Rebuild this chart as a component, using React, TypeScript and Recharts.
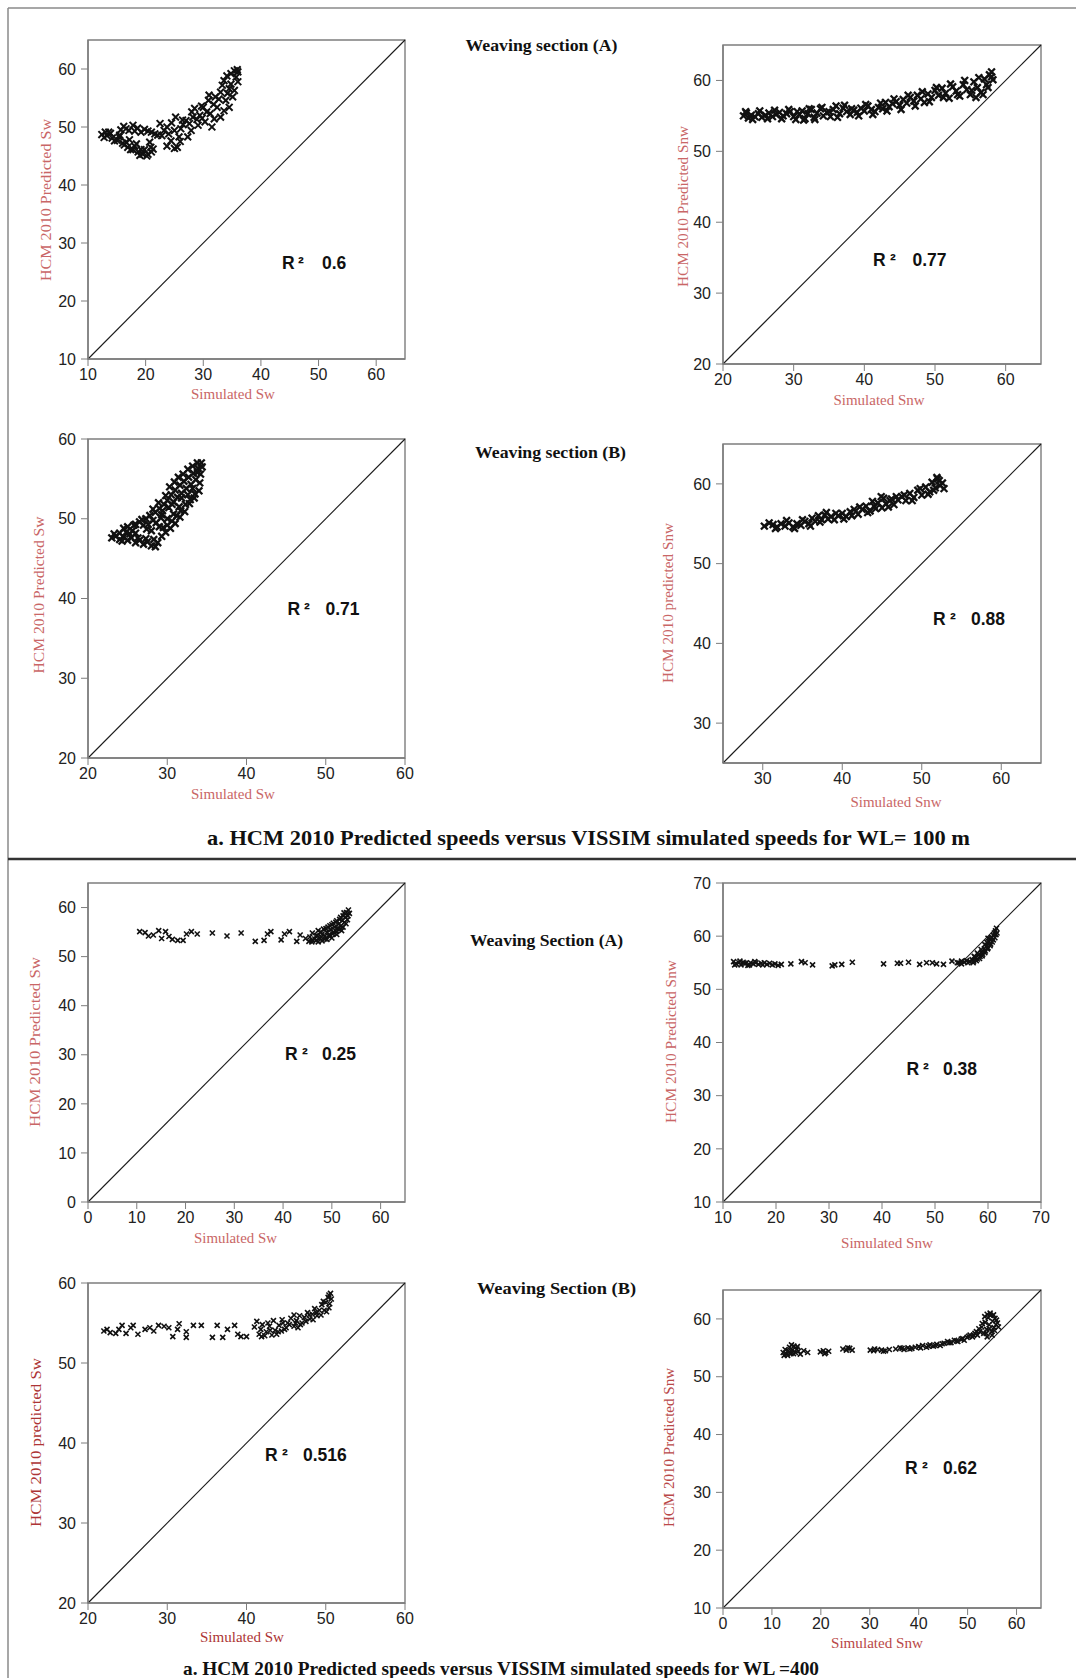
import React from 'react';
import { ScatterChart, Scatter, XAxis, YAxis, ReferenceLine, ReferenceArea } from 'recharts';

type Pt = [number, number];

// ---- Axis tick values ----
const ticks10to60 = [10, 20, 30, 40, 50, 60];
const ticks20to60 = [20, 30, 40, 50, 60];
const ticks30to60 = [30, 40, 50, 60];
const ticks0to60 = [0, 10, 20, 30, 40, 50, 60];
const ticks10to70 = [10, 20, 30, 40, 50, 60, 70];

// ---- WL = 100 m, weaving section (A) ----
const wl100A_sw: Pt[] = [
  [12.4, 48.7], [13.3, 48.5], [14.2, 48.1], [15.1, 47.7], [16.0, 47.2], [16.9, 46.5], [17.8, 46.1],
  [18.7, 45.7], [19.5, 45.3], [20.4, 45.3], [21.0, 45.7], [20.9, 46.5], [20.7, 47.4], [13.0, 49.1],
  [13.9, 48.9], [15.4, 48.3], [16.6, 47.4], [18.1, 46.7], [19.2, 46.1], [15.7, 49.5], [16.6, 49.7],
  [17.8, 50.3], [18.1, 49.3], [19.2, 49.1], [20.4, 49.3], [21.6, 48.8], [22.5, 50.6], [22.8, 48.5],
  [23.7, 50.0], [24.0, 48.8], [23.7, 46.7], [25.2, 51.7], [25.5, 46.5], [25.8, 48.3], [26.1, 49.7],
  [27.0, 51.1], [27.3, 48.3], [27.9, 49.4], [28.2, 51.7], [28.5, 53.2], [29.1, 50.3], [29.4, 52.0],
  [30.0, 53.4], [30.3, 50.9], [30.9, 54.6], [31.2, 52.3], [31.5, 50.0], [32.1, 55.2], [32.4, 53.4],
  [33.0, 51.7], [33.0, 56.0], [33.6, 58.0], [33.9, 54.6], [34.5, 56.6], [34.8, 59.2], [35.4, 59.7],
  [36.0, 59.5], [36.0, 57.8], [35.4, 56.3], [34.5, 53.4], [29.8, 51.5], [31.8, 53.9], [26.5, 50.4],
  [12.8, 48.2], [13.6, 49.1], [14.6, 47.6], [15.5, 48.6], [16.3, 46.9], [17.2, 47.8], [17.4, 46.1],
  [18.4, 47.1], [19.0, 45.1], [19.8, 46.1], [20.2, 45.0], [16.2, 50.1], [17.1, 49.4], [18.6, 49.8],
  [19.8, 49.6], [21.0, 49.1], [22.1, 48.6], [23.2, 49.4], [24.5, 50.7], [25.0, 49.4], [26.4, 51.2],
  [27.6, 50.6], [28.0, 52.6], [28.9, 51.3], [29.7, 53.6], [30.6, 52.6], [31.0, 55.5], [31.9, 51.4],
  [32.7, 54.8], [33.3, 57.2], [33.6, 52.8], [34.1, 58.8], [34.8, 57.4], [35.1, 55.2], [35.7, 58.6],
  [35.9, 59.9], [34.2, 55.8], [24.4, 47.6], [25.0, 46.3], [26.0, 47.5], [21.3, 46.2],
];
const wl100A_snw: Pt[] = [
  [22.9, 55.0], [23.3, 55.4], [23.6, 54.7], [24.0, 55.1], [24.5, 54.9], [25.0, 55.3], [25.5, 54.8],
  [26.0, 55.1], [26.5, 55.4], [27.0, 54.9], [27.5, 55.2], [28.0, 55.5], [28.5, 55.0], [29.0, 55.3],
  [29.5, 55.6], [30.0, 54.9], [30.3, 54.5], [30.8, 55.2], [31.2, 55.7], [31.6, 54.6], [32.0, 55.3],
  [32.5, 55.9], [32.9, 54.8], [33.3, 55.4], [33.8, 56.0], [34.2, 55.0], [34.7, 55.5], [35.2, 54.9],
  [35.6, 55.9], [36.0, 56.4], [36.5, 55.3], [37.0, 56.1], [37.5, 55.6], [38.0, 55.2], [38.5, 55.8],
  [39.0, 55.5], [39.5, 56.1], [40.0, 55.7], [40.5, 56.4], [41.0, 55.9], [41.5, 55.6], [42.0, 56.2],
  [42.6, 56.0], [43.0, 56.9], [43.5, 56.3], [44.0, 56.7], [44.5, 57.0], [45.0, 56.5], [45.5, 57.3],
  [46.0, 56.8], [46.5, 57.6], [47.0, 57.1], [47.5, 57.9], [48.0, 57.4], [48.5, 56.9], [49.0, 58.1],
  [49.5, 57.6], [50.0, 58.6], [50.5, 57.9], [51.0, 58.9], [51.5, 58.2], [52.0, 57.5], [52.5, 59.1],
  [53.0, 58.5], [53.5, 57.8], [54.0, 59.4], [54.5, 58.7], [55.0, 58.0], [55.5, 59.8], [56.0, 59.0],
  [56.5, 58.3], [57.0, 60.2], [57.3, 59.4], [57.7, 60.8], [58.0, 61.2], [58.2, 60.1],
  [23.2, 55.6], [24.2, 54.5], [25.2, 55.7], [26.3, 54.6], [27.3, 55.8], [28.3, 54.6], [29.3, 55.9],
  [30.5, 55.6], [31.4, 54.4], [32.2, 56.0], [33.0, 54.5], [34.0, 56.2], [35.0, 55.6], [36.2, 54.8],
  [37.2, 56.5], [38.2, 56.0], [39.2, 55.0], [40.2, 56.6], [41.2, 55.2], [42.3, 56.8], [43.2, 55.7],
  [44.2, 57.4], [45.2, 55.9], [46.2, 57.9], [47.2, 56.4], [48.2, 58.4], [49.2, 57.0], [50.2, 59.0],
  [51.2, 57.6], [52.2, 59.5], [53.2, 58.0], [54.2, 60.0], [55.2, 58.6], [56.2, 60.4], [56.8, 58.0],
  [57.5, 59.0], [58.0, 60.5], [55.8, 57.6],
];

// ---- WL = 100 m, weaving section (B) ----
const wl100B_sw: Pt[] = [
  [23.0, 47.6], [23.5, 47.8], [24.0, 47.4], [24.5, 47.7], [25.0, 47.3], [25.5, 47.6], [26.0, 47.0],
  [26.5, 47.3], [27.0, 46.8], [27.5, 47.1], [28.0, 46.6], [28.5, 46.5], [28.8, 47.0], [24.0, 48.2],
  [24.5, 48.8], [25.0, 49.0], [25.6, 48.5], [26.0, 49.3], [26.5, 49.6], [27.0, 49.2], [27.3, 50.0],
  [27.8, 50.4], [28.2, 49.8], [28.5, 50.8], [29.0, 51.3], [29.3, 50.5], [29.6, 51.8], [30.0, 52.3],
  [30.2, 51.4], [30.5, 53.0], [30.8, 52.1], [31.0, 53.6], [31.3, 52.7], [31.6, 54.2], [31.8, 53.2],
  [32.1, 54.7], [32.4, 53.8], [32.7, 55.2], [33.0, 54.3], [33.3, 55.7], [33.6, 54.9], [33.9, 56.3],
  [34.2, 55.6], [34.3, 57.0], [34.0, 53.5], [33.4, 52.6], [32.8, 51.9], [32.2, 50.9], [31.6, 50.2],
  [31.0, 49.4], [30.4, 48.8], [29.8, 48.3], [29.3, 47.8], [30.8, 50.6], [31.5, 51.5], [32.6, 53.0],
  [33.2, 53.8], [29.0, 49.0], [28.0, 48.5], [26.0, 48.2], [30.0, 50.0], [33.8, 55.8],
  [23.3, 48.1], [24.3, 47.2], [25.3, 48.1], [26.3, 47.6], [27.3, 47.5], [28.3, 47.4], [24.8, 48.3],
  [25.8, 49.2], [26.8, 49.9], [27.6, 49.3], [28.6, 49.5], [29.2, 50.1], [28.9, 52.0], [29.8, 52.9],
  [30.3, 54.0], [30.9, 54.6], [31.4, 55.2], [32.0, 55.6], [32.6, 56.2], [33.2, 56.6], [33.8, 57.0],
  [34.4, 56.5], [34.1, 54.5], [33.5, 53.1], [32.9, 52.4], [32.3, 51.8], [31.7, 51.0], [31.2, 50.4],
  [30.6, 49.7], [30.0, 49.2], [29.5, 48.9], [28.2, 51.2], [29.4, 51.0], [30.6, 51.8], [31.8, 52.6],
  [27.4, 48.7],
];
const wl100B_snw: Pt[] = [
  [30.2, 54.7], [31.3, 54.9], [31.8, 54.6], [32.3, 55.0], [32.8, 54.7], [33.3, 55.1], [33.8, 54.6],
  [34.3, 55.0], [34.8, 54.8], [35.3, 55.3], [35.8, 55.0], [36.2, 55.7], [36.6, 55.3], [37.0, 56.0],
  [37.4, 55.5], [37.8, 56.1], [38.2, 55.6], [38.6, 55.9], [39.0, 55.5], [39.5, 56.0], [40.0, 56.3],
  [40.5, 55.9], [41.0, 56.5], [41.5, 56.8], [42.0, 56.2], [42.5, 56.8], [43.0, 57.2], [43.5, 56.6],
  [44.0, 57.2], [44.5, 57.6], [45.0, 57.0], [45.2, 58.2], [45.5, 57.5], [46.0, 57.9], [46.5, 57.4],
  [47.0, 58.0], [47.5, 58.4], [48.0, 57.9], [48.5, 58.8], [49.0, 58.3], [49.5, 59.2], [50.0, 58.6],
  [50.5, 59.6], [51.0, 59.0], [51.3, 60.2], [51.7, 59.5], [52.0, 60.6], [52.3, 59.8], [52.6, 60.1],
  [52.8, 59.4],
  [30.8, 55.1], [31.6, 54.4], [33.0, 55.4], [34.0, 54.4], [35.0, 55.5], [36.0, 54.7], [37.2, 55.2],
  [38.0, 56.4], [39.2, 56.3], [40.2, 55.6], [41.2, 56.0], [42.2, 57.1], [43.2, 56.4], [44.2, 56.9],
  [45.8, 57.1], [46.8, 58.4], [47.8, 58.6], [48.8, 57.9], [49.8, 59.4], [50.8, 58.7], [51.5, 59.2],
  [52.2, 60.4], [51.9, 60.8], [46.2, 58.1], [43.8, 57.8], [44.9, 58.4],
];

// ---- WL = 400 m, weaving section (A) ----
const wl400A_sw: Pt[] = [
  [10.6, 55.1], [11.7, 54.9], [12.4, 54.2], [13.4, 54.4], [14.5, 55.3], [15.1, 53.7], [15.9, 55.1],
  [16.6, 54.1], [17.3, 53.5], [18.4, 53.3], [19.5, 53.3], [20.2, 54.6], [21.2, 55.1], [22.4, 54.6],
  [25.5, 54.8], [28.5, 54.2], [31.4, 54.8], [34.3, 53.1], [36.1, 53.3], [36.8, 54.6], [37.5, 55.1],
  [39.6, 53.4], [40.3, 54.6], [41.3, 55.1], [42.8, 53.1], [43.5, 54.4], [44.6, 53.7], [45.3, 53.1],
  [46.0, 53.4], [45.5, 54.0], [46.0, 54.8], [46.5, 53.6], [47.0, 54.3], [47.2, 55.3], [47.6, 53.8],
  [48.0, 54.6], [48.3, 55.6], [48.6, 54.2], [49.0, 55.0], [49.2, 56.0], [49.5, 54.5], [49.8, 55.5],
  [50.0, 56.5], [50.3, 55.0], [50.6, 56.0], [50.8, 57.0], [51.1, 55.7], [51.4, 56.6], [51.6, 57.6],
  [51.9, 56.3], [52.1, 57.3], [52.3, 58.3], [52.6, 57.0], [52.8, 58.0], [53.0, 59.0], [53.3, 58.3],
  [53.4, 59.5], [52.0, 55.3], [51.0, 54.5], [50.0, 53.8], [49.0, 53.5], [48.0, 53.2], [47.2, 53.0],
  [45.9, 53.0], [46.8, 53.3], [47.8, 54.0], [48.6, 53.6], [49.4, 54.2], [50.2, 54.6], [50.9, 55.1],
  [51.6, 55.6], [52.3, 56.0], [52.9, 56.7], [53.2, 57.5], [53.6, 58.8], [52.5, 58.9], [51.8, 58.0],
  [51.0, 57.3], [50.3, 56.8], [49.6, 56.3], [48.8, 55.7], [47.8, 55.0], [46.8, 54.3],
];
const wl400A_snw: Pt[] = [
  [12.0, 55.2], [12.5, 54.8], [13.0, 55.0], [13.4, 54.6], [13.8, 55.1], [14.3, 54.9], [14.7, 54.5],
  [15.2, 55.0], [15.7, 54.8], [16.2, 55.0], [16.7, 54.7], [17.2, 54.9], [17.8, 55.0], [18.3, 54.7],
  [18.8, 54.9], [19.3, 54.6], [19.8, 54.8], [20.4, 54.5], [21.0, 54.7], [22.8, 54.8], [24.8, 55.2],
  [25.5, 55.0], [26.9, 54.6], [30.6, 54.4], [31.1, 54.6], [32.4, 54.7], [34.4, 55.1], [40.3, 54.8],
  [42.9, 54.9], [43.5, 54.9], [45.0, 55.1], [47.1, 54.7], [48.4, 55.0], [49.5, 55.0], [50.3, 54.8],
  [51.6, 54.7], [53.2, 55.3], [54.2, 55.0], [54.5, 55.0], [55.0, 55.3], [55.5, 55.1], [56.0, 55.4],
  [56.5, 55.2], [57.0, 55.6], [57.3, 55.3], [57.6, 56.0], [58.0, 55.7], [58.2, 56.5], [58.5, 56.2],
  [58.8, 57.0], [59.0, 56.6], [59.3, 57.6], [59.5, 57.2], [59.8, 58.3], [60.0, 57.8], [60.2, 59.0],
  [60.5, 58.5], [60.7, 59.8], [61.0, 59.3], [61.2, 60.6], [61.4, 61.0], [61.6, 61.5], [61.0, 60.2],
  [60.4, 59.5], [59.8, 58.8], [61.5, 60.3],
  [12.2, 54.6], [13.2, 55.3], [14.0, 54.9], [15.0, 54.6], [16.0, 55.2], [17.5, 54.6], [55.0, 54.8],
  [56.2, 55.0], [57.2, 55.0], [57.8, 55.4], [58.4, 55.8], [58.9, 56.3], [59.4, 56.9], [59.9, 57.6],
  [60.4, 58.2], [60.8, 58.9], [61.3, 59.7], [61.7, 60.6], [60.0, 59.6], [59.4, 58.4], [58.7, 57.5],
  [58.0, 56.8], [57.4, 56.2],
];

// ---- WL = 400 m, weaving section (B) ----
const wl400B_sw: Pt[] = [
  [22.0, 54.0], [22.4, 54.2], [22.8, 53.8], [23.5, 53.7], [23.9, 54.2], [24.3, 54.7], [24.8, 53.7],
  [25.4, 54.4], [25.7, 54.7], [26.3, 53.6], [27.2, 54.2], [27.8, 54.4], [28.3, 54.0], [28.9, 54.7],
  [29.6, 54.6], [30.2, 54.4], [30.7, 53.3], [31.3, 54.2], [31.5, 54.9], [32.4, 53.9], [32.4, 53.2],
  [33.3, 54.7], [34.3, 54.7], [35.7, 53.2], [36.3, 54.7], [37.0, 53.2], [37.6, 54.2], [38.5, 54.7],
  [38.9, 53.6], [39.3, 53.3], [40.0, 53.3], [41.0, 54.5], [41.3, 55.2], [41.6, 53.6], [42.0, 54.8],
  [42.3, 53.4], [42.7, 55.0], [43.0, 54.1], [43.4, 55.3], [43.8, 53.6], [44.1, 54.7], [44.5, 55.4],
  [44.8, 54.2], [45.2, 55.0], [45.6, 55.6], [46.0, 54.6], [46.3, 55.3], [46.7, 55.9], [47.0, 55.0],
  [47.3, 55.7], [47.7, 56.3], [48.0, 55.5], [48.3, 56.1], [48.6, 56.8], [48.9, 55.9], [49.2, 56.6],
  [49.5, 57.3], [49.8, 56.6], [50.0, 57.6], [50.3, 58.2], [50.5, 57.4], [50.6, 58.7], [50.4, 56.9],
  [42.5, 53.9], [44.0, 53.9], [46.8, 54.8],
  [41.8, 54.2], [42.9, 54.6], [43.6, 54.1], [44.4, 54.0], [45.0, 54.4], [45.4, 54.8], [46.2, 55.0],
  [46.5, 54.4], [47.5, 55.2], [47.9, 56.0], [48.4, 55.4], [48.8, 56.3], [49.4, 56.0], [49.7, 57.7],
  [50.1, 56.4], [50.4, 58.5], [50.7, 58.0], [46.0, 56.0], [44.6, 55.0], [41.9, 53.3], [43.2, 53.5],
];
const wl400B_snw: Pt[] = [
  [12.3, 54.2], [12.7, 54.7], [13.0, 53.9], [13.3, 54.5], [13.6, 55.1], [13.9, 54.0], [14.2, 54.6],
  [14.5, 55.3], [14.8, 54.2], [15.1, 54.8], [15.4, 54.4], [14.0, 55.5], [13.2, 53.7], [16.5, 54.5],
  [17.3, 54.2], [19.9, 54.3], [20.5, 54.5], [21.0, 54.2], [21.6, 54.4], [24.5, 54.8], [25.2, 54.6],
  [25.9, 54.9], [26.4, 54.6], [30.1, 54.6], [30.8, 54.5], [31.6, 54.7], [32.4, 54.6], [33.2, 54.5],
  [34.0, 54.7], [35.3, 54.8], [36.2, 55.0], [37.0, 54.7], [37.8, 55.0], [38.6, 54.9], [39.3, 55.1],
  [40.0, 55.2], [40.8, 55.4], [41.6, 55.1], [42.3, 55.5], [43.0, 55.3], [43.7, 55.6], [44.4, 55.4],
  [45.2, 55.8], [45.9, 56.1], [46.6, 55.9], [47.3, 56.3], [48.0, 56.1], [48.7, 56.5], [49.3, 56.3],
  [49.9, 56.8], [50.5, 57.2], [51.0, 56.9], [51.5, 57.5], [52.0, 57.2], [52.5, 57.8], [52.9, 58.6],
  [53.3, 57.5], [53.6, 59.4], [53.9, 58.2], [54.2, 60.2], [54.4, 59.0], [54.7, 60.6], [54.9, 57.8],
  [55.1, 59.6], [55.4, 58.5], [55.6, 60.1], [55.8, 59.0], [56.3, 58.6], [54.0, 56.9], [55.0, 57.2],
  [12.5, 53.7], [13.5, 54.3], [14.4, 54.0], [15.2, 55.2], [15.8, 53.9], [20.8, 54.0], [25.5, 55.0],
  [31.0, 54.8], [32.8, 54.4], [36.6, 54.9], [38.2, 54.8], [40.4, 55.0], [42.0, 55.3], [43.4, 55.4],
  [44.8, 55.7], [46.2, 55.9], [47.7, 56.2], [49.0, 56.6], [50.2, 57.0], [51.2, 57.2], [51.8, 57.8],
  [52.3, 58.3], [53.0, 59.2], [53.5, 60.4], [54.0, 60.8], [54.6, 61.0], [55.3, 60.7], [55.9, 59.8],
  [56.1, 59.3], [53.8, 57.5], [54.5, 58.3], [55.5, 58.0],
];

// ---- R² values ----
const r2Values = ['0.6', '0.77', '0.71', '0.88', '0.25', '0.38', '0.516', '0.62'];

// ---- Layout ----
const ML = 56; // room for y tick labels
const MT = 12;
const MR = 12;
const MB = 34; // room for x tick labels

const SANS = '"Liberation Sans", Arial, Helvetica, sans-serif';
const SERIF = '"Liberation Serif", "Times New Roman", Times, serif';
const AXIS_GREY = '#7d7d7d';
const LABEL_RED = '#c96666';
const LABEL_DARK_RED = '#ad3535';

interface PanelSpec {
  left: number; top: number; w: number; h: number;
  xDom: [number, number]; yDom: [number, number];
  xTicks: number[]; yTicks: number[];
  diag: [Pt, Pt];
  pts: Pt[];
  mark: number; markW: number;
  xLabel: string; yLabel: string; labelColor: string;
  xl: { cx: number; base: number; len: number };
  yl: { bx: number; cy: number; len: number };
  r2: { x: number; sup: number; val: number; base: number };
  r2Text: string;
}

const panels: PanelSpec[] = [
  {
    left: 88, top: 39.5, w: 317, h: 319, xDom: [10, 65], yDom: [10, 65],
    xTicks: ticks10to60, yTicks: ticks10to60, diag: [[10, 10], [65, 65]], pts: wl100A_sw,
    mark: 3.4, markW: 2.0, xLabel: 'Simulated Sw', yLabel: 'HCM 2010 Predicted Sw', labelColor: LABEL_RED,
    xl: { cx: 233, base: 399, len: 84 }, yl: { bx: 51, cy: 200, len: 162 },
    r2: { x: 282, sup: 298, val: 322, base: 269 }, r2Text: r2Values[0],
  },
  {
    left: 723, top: 45, w: 318, h: 319, xDom: [20, 65], yDom: [20, 65],
    xTicks: ticks20to60, yTicks: ticks20to60, diag: [[20, 20], [65, 65]], pts: wl100A_snw,
    mark: 3.4, markW: 2.3, xLabel: 'Simulated Snw', yLabel: 'HCM 2010 Predicted Snw', labelColor: LABEL_RED,
    xl: { cx: 879, base: 405, len: 91 }, yl: { bx: 688, cy: 206.5, len: 161 },
    r2: { x: 873, sup: 890, val: 912.5, base: 266 }, r2Text: r2Values[1],
  },
  {
    left: 88, top: 439, w: 317, h: 319, xDom: [20, 60], yDom: [20, 60],
    xTicks: ticks20to60, yTicks: ticks20to60, diag: [[20, 20], [60, 60]], pts: wl100B_sw,
    mark: 3.4, markW: 2.3, xLabel: 'Simulated Sw', yLabel: 'HCM 2010 Predicted Sw', labelColor: LABEL_RED,
    xl: { cx: 233, base: 799, len: 84 }, yl: { bx: 44, cy: 595, len: 157 },
    r2: { x: 287.5, sup: 304, val: 325.5, base: 615 }, r2Text: r2Values[2],
  },
  {
    left: 723, top: 444, w: 318, h: 319, xDom: [25, 65], yDom: [25, 65],
    xTicks: ticks30to60, yTicks: ticks30to60, diag: [[25, 25], [65, 65]], pts: wl100B_snw,
    mark: 3.4, markW: 2.3, xLabel: 'Simulated Snw', yLabel: 'HCM 2010 predicted Snw', labelColor: LABEL_RED,
    xl: { cx: 896, base: 807, len: 91 }, yl: { bx: 673, cy: 603, len: 160 },
    r2: { x: 933, sup: 950, val: 971, base: 625 }, r2Text: r2Values[3],
  },
  {
    left: 88, top: 883, w: 317, h: 319, xDom: [0, 65], yDom: [0, 65],
    xTicks: ticks0to60, yTicks: ticks0to60, diag: [[0, 0], [65, 65]], pts: wl400A_sw,
    mark: 2.5, markW: 1.6, xLabel: 'Simulated Sw', yLabel: 'HCM 2010 Predicted Sw', labelColor: LABEL_RED,
    xl: { cx: 235.5, base: 1243, len: 83 }, yl: { bx: 39.5, cy: 1042, len: 170 },
    r2: { x: 285, sup: 302, val: 322, base: 1060 }, r2Text: r2Values[4],
  },
  {
    left: 723, top: 883, w: 318, h: 319, xDom: [10, 70], yDom: [10, 70],
    xTicks: ticks10to70, yTicks: ticks10to70, diag: [[10, 10], [70, 70]], pts: wl400A_snw,
    mark: 2.5, markW: 1.6, xLabel: 'Simulated Snw', yLabel: 'HCM 2010 Predicted Snw', labelColor: LABEL_RED,
    xl: { cx: 887, base: 1248, len: 92 }, yl: { bx: 676, cy: 1041.5, len: 163 },
    r2: { x: 906.5, sup: 923, val: 943, base: 1075 }, r2Text: r2Values[5],
  },
  {
    left: 88, top: 1283, w: 317, h: 320, xDom: [20, 60], yDom: [20, 60],
    xTicks: ticks20to60, yTicks: ticks20to60, diag: [[20, 20], [60, 60]], pts: wl400B_sw,
    mark: 2.5, markW: 1.6, xLabel: 'Simulated Sw', yLabel: 'HCM 2010 predicted Sw', labelColor: LABEL_DARK_RED,
    xl: { cx: 242, base: 1642, len: 84 }, yl: { bx: 40.5, cy: 1442.5, len: 169 },
    r2: { x: 265, sup: 282, val: 303, base: 1461 }, r2Text: r2Values[6],
  },
  {
    left: 723, top: 1290, w: 318, h: 318, xDom: [0, 65], yDom: [10, 65],
    xTicks: ticks0to60, yTicks: ticks10to60, diag: [[0, 10], [65, 65]], pts: wl400B_snw,
    mark: 2.5, markW: 1.6, xLabel: 'Simulated Snw', yLabel: 'HCM 2010 Predicted Snw', labelColor: '#b94848',
    xl: { cx: 877, base: 1648, len: 92 }, yl: { bx: 674, cy: 1447.5, len: 159 },
    r2: { x: 905, sup: 922, val: 943, base: 1474 }, r2Text: r2Values[7],
  },
];

const makeCross = (s: number, sw: number) => (props: any) => {
  const { cx, cy } = props;
  if (cx == null || cy == null) return <g />;
  return (
    <path
      d={`M${cx - s},${cy - s}L${cx + s},${cy + s}M${cx - s},${cy + s}L${cx + s},${cy - s}`}
      stroke="#111"
      strokeWidth={sw}
      fill="none"
    />
  );
};

const tickStyle = { fill: '#222', fontSize: 16, fontFamily: SANS };

function Panel({ spec }: { spec: PanelSpec }) {
  const W = spec.w + ML + MR;
  const H = spec.h + MT + MB;
  const data = spec.pts.map(([x, y]) => ({ x, y }));
  return (
    <div style={{ position: 'absolute', left: spec.left - ML, top: spec.top - MT, width: W, height: H }}>
      <ScatterChart width={W} height={H} margin={{ top: MT, right: MR, bottom: 0, left: 0 }}>
        <XAxis
          type="number" dataKey="x" domain={spec.xDom} ticks={spec.xTicks} allowDataOverflow
          interval={0} height={MB} tickSize={7} tickMargin={3} tick={tickStyle}
          tickLine={{ stroke: AXIS_GREY }} axisLine={{ stroke: AXIS_GREY, strokeWidth: 1.4 }}
        />
        <YAxis
          type="number" dataKey="y" domain={spec.yDom} ticks={spec.yTicks} allowDataOverflow
          interval={0} width={ML} tickSize={7} tickMargin={5} tick={tickStyle}
          tickLine={{ stroke: AXIS_GREY }} axisLine={{ stroke: AXIS_GREY, strokeWidth: 1.4 }}
        />
        <ReferenceArea
          x1={spec.xDom[0]} x2={spec.xDom[1]} y1={spec.yDom[0]} y2={spec.yDom[1]}
          fill="none" stroke={AXIS_GREY} strokeWidth={1.4} ifOverflow="visible"
        />
        <ReferenceLine
          segment={[{ x: spec.diag[0][0], y: spec.diag[0][1] }, { x: spec.diag[1][0], y: spec.diag[1][1] }]}
          stroke="#1a1a1a" strokeWidth={1.1} ifOverflow="visible"
        />
        <Scatter data={data} isAnimationActive={false} shape={makeCross(spec.mark, spec.markW)} />
      </ScatterChart>
    </div>
  );
}

const titles = [
  { text: 'Weaving section (A)', x: 465.5, base: 51, len: 152 },
  { text: 'Weaving section (B)', x: 475, base: 458, len: 151 },
  { text: 'Weaving Section (A)', x: 470, base: 945.5, len: 153 },
  { text: 'Weaving Section (B)', x: 477, base: 1294, len: 159 },
];

const captions = [
  { text: 'a. HCM 2010 Predicted speeds versus VISSIM simulated speeds for WL= 100 m', x: 207, base: 845, len: 763, size: 21 },
  { text: 'a. HCM 2010 Predicted speeds versus VISSIM simulated speeds for WL =400', x: 183, base: 1675, len: 636, size: 19 },
];

export default function App() {
  return (
    <div style={{ position: 'absolute', left: 0, top: 0, width: 1076, height: 1678, background: '#fff', overflow: 'hidden' }}>
      {panels.map((p, i) => (
        <Panel key={i} spec={p} />
      ))}
      <svg width={1076} height={1678} style={{ position: 'absolute', left: 0, top: 0, pointerEvents: 'none' }}>
        {/* frame and divider */}
        <line x1={8} y1={8} x2={1076} y2={8} stroke="#8a8a8a" strokeWidth={1.5} />
        <line x1={8} y1={8} x2={8} y2={1678} stroke="#8a8a8a" strokeWidth={1.5} />
        <line x1={8} y1={859} x2={1076} y2={859} stroke="#333" strokeWidth={2.5} />

        {titles.map((t, i) => (
          <text key={`t${i}`} x={t.x} y={t.base} fontFamily={SERIF} fontWeight="bold" fontSize={16}
            fill="#111" textLength={t.len} lengthAdjust="spacingAndGlyphs">{t.text}</text>
        ))}
        {captions.map((c, i) => (
          <text key={`c${i}`} x={c.x} y={c.base} fontFamily={SERIF} fontWeight="bold" fontSize={c.size}
            fill="#111" textLength={c.len} lengthAdjust="spacingAndGlyphs">{c.text}</text>
        ))}

        {panels.map((p, i) => (
          <g key={`l${i}`}>
            <text x={p.xl.cx} y={p.xl.base} textAnchor="middle" fontFamily={SERIF} fontSize={15}
              fill={p.labelColor} textLength={p.xl.len} lengthAdjust="spacingAndGlyphs">{p.xLabel}</text>
            <text transform={`translate(${p.yl.bx},${p.yl.cy}) rotate(-90)`} textAnchor="middle"
              fontFamily={SERIF} fontSize={15.5} fill={p.labelColor} textLength={p.yl.len}
              lengthAdjust="spacingAndGlyphs">{p.yLabel}</text>
            <text y={p.r2.base} fontFamily={SANS} fontWeight="bold" fontSize={17.5} fill="#111">
              <tspan x={p.r2.x}>R</tspan>
              <tspan x={p.r2.sup}>²</tspan>
              <tspan x={p.r2.val}>{p.r2Text}</tspan>
            </text>
          </g>
        ))}
      </svg>
    </div>
  );
}
